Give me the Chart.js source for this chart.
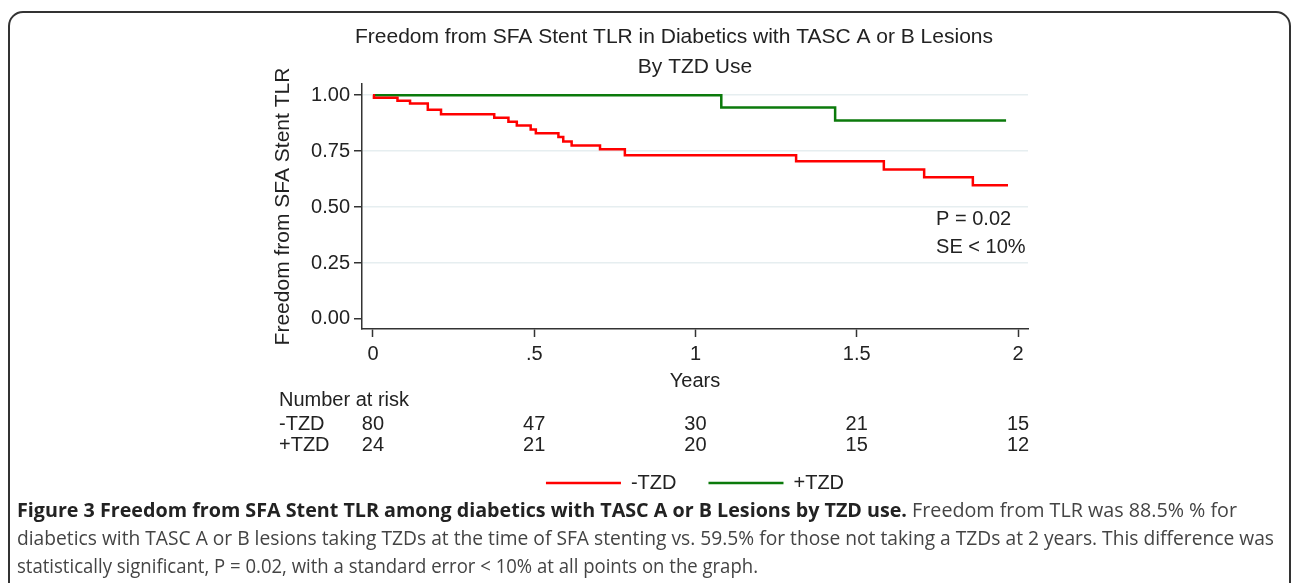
<!DOCTYPE html>
<html>
<head>
<meta charset="utf-8">
<script src="https://cdn.jsdelivr.net/npm/chart.js@4.4.1/dist/chart.umd.min.js"></script>
<style>
html, body { margin: 0; padding: 0; background: #fff; }
body { width: 1292px; height: 583px; position: relative; overflow: hidden; }
#frame { position: absolute; left: 8px; top: 11px; width: 1283px; height: 620px; border: 2px solid #333; border-radius: 15px; box-sizing: border-box; }
#chart { position: absolute; left: 0; top: 0; }
#caption { position: absolute; left: 17px; top: 496px; font-family: "Open Sans", sans-serif; font-size: 20px; line-height: 28px; color: #444; }
#caption div { white-space: nowrap; width: max-content; transform-origin: 0 50%; }
#caption b { color: #222; }
</style>
</head>
<body>
<div id="frame"></div>
<canvas id="chart" width="1292" height="583"></canvas>
<div id="caption">
  <div class="ln"><b>Figure 3 Freedom from SFA Stent TLR among diabetics with TASC A or B Lesions by TZD use.</b> Freedom from TLR was 88.5% % for</div>
  <div class="ln">diabetics with TASC A or B lesions taking TZDs at the time of SFA stenting vs. 59.5% for those not taking a TZDs at 2 years. This difference was</div>
  <div class="ln">statistically significant, P = 0.02, with a standard error &lt; 10% at all points on the graph.</div>
</div>
<script>
// Kaplan-Meier steps (years, survival)
const noTzdYears = [0, 0.003, 0.076, 0.115, 0.17, 0.211, 0.376, 0.42, 0.446, 0.489, 0.505, 0.575, 0.59, 0.616, 0.704, 0.781, 1.312, 1.584, 1.709, 1.86, 1.969];
const noTzdSurv  = [1, 0.988, 0.975, 0.963, 0.935, 0.915, 0.899, 0.881, 0.864, 0.847, 0.83, 0.813, 0.793, 0.775, 0.758, 0.732, 0.705, 0.668, 0.633, 0.598, 0.598];
const tzdYears = [0, 1.08, 1.433, 1.963];
const tzdSurv  = [1, 0.945, 0.887, 0.887];

const seriesNames = ['-TZD', '+TZD'];

const xTickValues = [0, 0.5, 1, 1.5, 2];
const xTickLabels = ['0', '.5', '1', '1.5', '2'];
const yTickValues = [0, 0.25, 0.5, 0.75, 1];

// number at risk table
const riskTimes = [0, 0.5, 1, 1.5, 2];
const riskNoTzd = [80, 47, 30, 21, 15];
const riskTzd   = [24, 21, 20, 15, 12];

const titleLines = ['Freedom from SFA Stent TLR in Diabetics with TASC A or B Lesions', 'By TZD Use'];
const statLines = ['P = 0.02', 'SE < 10%'];

const FONT = '"Liberation Sans", Arial, sans-serif';
const INK = '#222';

const toPoints = (xs, ys) => xs.map((v, i) => ({x: v, y: ys[i]}));

const figText = {
    id: 'figText',
    afterDraw(chart) {
        const {ctx, scales: {x, y}} = chart;
        ctx.save();
        ctx.fillStyle = INK;
        ctx.textBaseline = 'middle';

        // title
        ctx.font = '21px ' + FONT;
        ctx.textAlign = 'center';
        ctx.fillText(titleLines[0], 674, 37);
        ctx.fillText(titleLines[1], 695, 67);

        // p value note
        ctx.font = '20px ' + FONT;
        ctx.textAlign = 'left';
        ctx.fillText(statLines[0], x.getPixelForValue(1.746), y.getPixelForValue(0.446));
        ctx.fillText(statLines[1], x.getPixelForValue(1.746), y.getPixelForValue(0.321));

        // number at risk
        ctx.fillText('Number at risk', 279, 400);
        ctx.fillText(seriesNames[0], 279, 424);
        ctx.fillText(seriesNames[1], 279, 445);
        ctx.textAlign = 'center';
        riskTimes.forEach((t, i) => {
            const px = x.getPixelForValue(t);
            ctx.fillText(String(riskNoTzd[i]), px, 424);
            ctx.fillText(String(riskTzd[i]), px, 445);
        });
        ctx.restore();
    }
};

const ctx = document.getElementById('chart').getContext('2d');
const chart = new Chart(ctx, {
    type: 'line',
    data: {
        datasets: [
        {
            label: seriesNames[0],
            data: toPoints(noTzdYears, noTzdSurv),
            borderColor: '#ff0000',
            backgroundColor: '#ff0000',
            borderWidth: 2.5,
            stepped: true,
            pointRadius: 0,
            fill: false
        },
        {
            label: seriesNames[1],
            data: toPoints(tzdYears, tzdSurv),
            borderColor: '#0b7a0b',
            backgroundColor: '#0b7a0b',
            borderWidth: 2.5,
            stepped: true,
            pointRadius: 0,
            fill: false
        }]
    },
    options: {
        responsive: false,
        animation: false,
        layout: {
            padding: {left: 270, right: 264, top: 84, bottom: 80}
        },
        scales: {
            x: {
                type: 'linear',
                min: -0.034,
                max: 2.031,
                afterBuildTicks: (s) => { s.ticks = xTickValues.map(v => ({value: v})); },
                afterFit: (s) => { s.height = 112; },
                ticks: {
                    callback: (v) => xTickLabels[xTickValues.indexOf(v)],
                    font: {size: 20, family: FONT},
                    color: INK,
                    padding: 5,
                    maxRotation: 0,
                    autoSkip: false
                },
                grid: {
                    drawOnChartArea: false,
                    tickLength: 8,
                    tickColor: '#333',
                    tickWidth: 1.5
                },
                border: {color: '#333', width: 1.5},
                title: {
                    display: true,
                    text: 'Years',
                    color: INK,
                    font: {size: 20, family: FONT},
                    padding: {top: 0, bottom: 48}
                }
            },
            y: {
                min: -0.045,
                max: 1.05,
                afterBuildTicks: (s) => { s.ticks = yTickValues.map(v => ({value: v})); },
                afterFit: (s) => { s.width = 92; },
                ticks: {
                    callback: (v) => v.toFixed(2),
                    font: {size: 20, family: FONT},
                    color: INK,
                    padding: 4
                },
                grid: {
                    color: (c) => c.tick && c.tick.value === 0 ? 'rgba(0,0,0,0)' : '#e6eef0',
                    lineWidth: 1.5,
                    tickLength: 8,
                    tickColor: '#333',
                    tickWidth: 1.5
                },
                border: {color: '#333', width: 1.5},
                title: {
                    display: true,
                    text: 'Freedom from SFA Stent TLR',
                    color: INK,
                    font: {size: 21, family: FONT},
                    padding: {top: 1, bottom: 0}
                }
            }
        },
        plugins: {
            title: {display: false},
            tooltip: {enabled: false},
            legend: {
                position: 'bottom',
                fullSize: false,
                onClick: (e) => e.stopPropagation(),
                labels: {
                    boxWidth: 75,
                    boxHeight: 0,
                    padding: 32,
                    color: INK,
                    font: {size: 20, family: FONT}
                }
            }
        }
    },
    plugins: [figText]
});

// squeeze caption lines to the widths they take in the figure
const capWidths = [1220, 1257, 741];
document.querySelectorAll('#caption .ln').forEach((el, i) => {
    const w = el.getBoundingClientRect().width;
    el.style.transform = 'scaleX(' + (capWidths[i] / w) + ')';
});
</script>
</body>
</html>
